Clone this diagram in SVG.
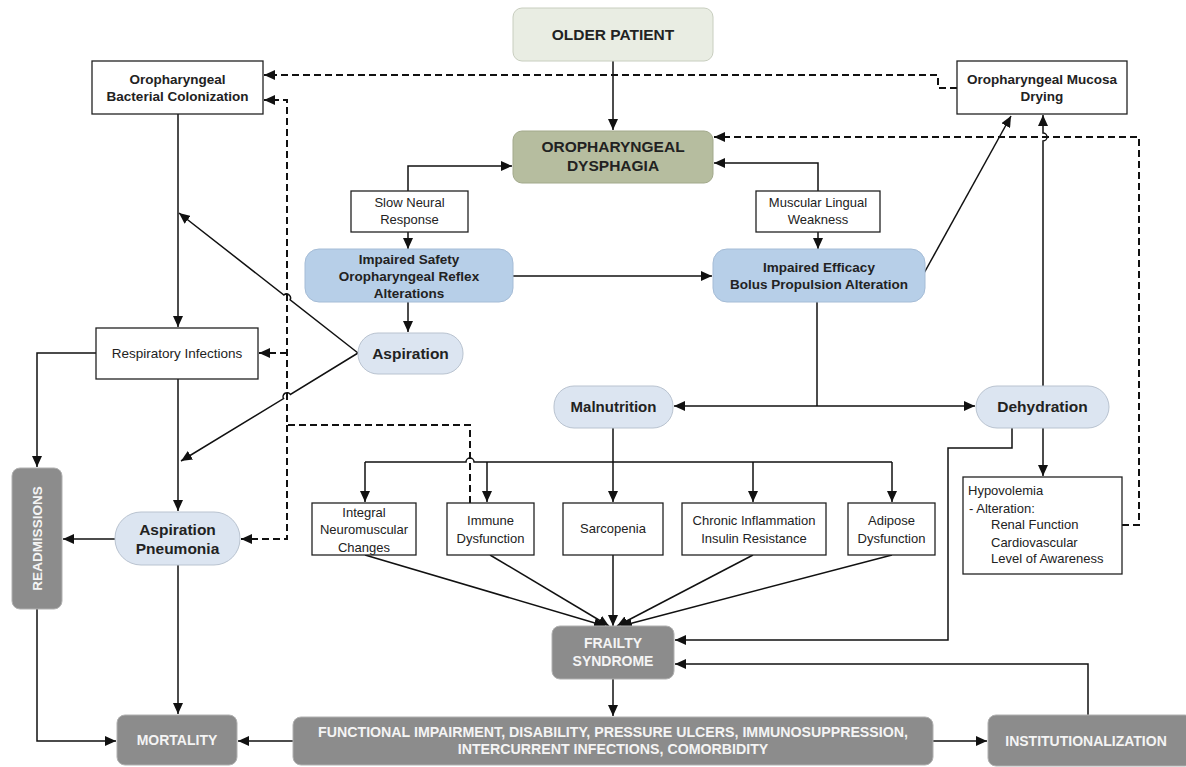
<svg xmlns="http://www.w3.org/2000/svg" width="1186" height="767" viewBox="0 0 1186 767">
<style>
text{font-family:"Liberation Sans",Arial,sans-serif;text-anchor:middle;fill:#222}
.b{font-weight:bold}
.w{fill:#f4f4f4;font-weight:bold}
.box{fill:#fff;stroke:#222;stroke-width:1.3}
.pill{fill:#dce5f1;stroke:#b9c3d0;stroke-width:1}
.blue{fill:#b7cfe8;stroke:#a5bcd6;stroke-width:1}
.grey{fill:#8c8c8c;stroke:#b0b0b0;stroke-width:1}
.c path{fill:none;stroke:#111;stroke-width:1.5}
.c .d{stroke-dasharray:7,4;stroke-width:2}
.a{marker-end:url(#ar)}
</style>
<defs>
<marker id="ar" markerUnits="userSpaceOnUse" markerWidth="12" markerHeight="10" refX="11" refY="5" orient="auto">
<path d="M0,0 L11,5 L0,10 z" fill="#111"/>
</marker>
</defs>
<rect width="1186" height="767" fill="#fff"/>

<g class="c" id="connectors">
<path class="a" d="M613,61 V130"/>
<path class="a" d="M408,191 V166 H512"/>
<path class="a" d="M408,232 V249"/>
<path class="a" d="M818,191 V163 H714"/>
<path class="a" d="M818,232 V249"/>
<path class="a" d="M513,276 H712"/>
<path class="a" d="M923,275 L1011,116"/>
<path class="a" d="M1043,386 V141 A4,4 0 0 0 1043,133 V115"/>
<path class="a" d="M408,302 V332"/>
<path class="a" d="M358,353 L290.1,299.8 A4,4 0 0 0 283.9,295 L179,213"/>
<path class="a" d="M358,353 L290.4,394.4 A4,4 0 0 0 283.6,398.6 L181,461"/>
<path class="a" d="M178,114 V327"/>
<path class="a" d="M178,379 V511"/>
<path class="a" d="M96,353 H37 V467"/>
<path class="a" d="M115,539 H63"/>
<path class="a" d="M178,565 V714"/>
<path class="a" d="M37,609 V741 H116"/>
<path class="a" d="M293,741 H238"/>
<path class="a" d="M933,741 H987"/>
<path class="a" d="M1088,715 V664 H675"/>
<path class="a" d="M1012,428 V448 H948 V640 H675"/>
<path class="a" d="M613,679 V716"/>
<path d="M817,302 V406"/>
<path class="a" d="M817,406 H674"/>
<path class="a" d="M817,406 H975"/>
<path class="a" d="M1043,428 V476"/>
<path class="a" d="M613,428 V502"/>
<path d="M365,462 H466 A4,4 0 0 1 474,462 H892"/>
<path class="a" d="M365,462 V502"/>
<path class="a" d="M487,462 V502"/>
<path class="a" d="M753,462 V502"/>
<path class="a" d="M892,462 V502"/>
<path class="a" d="M365,555 L605,626"/>
<path class="a" d="M490,555 L609,626"/>
<path class="a" d="M613,555 V626"/>
<path class="a" d="M753,555 L617,626"/>
<path class="a" d="M892,555 L621,626"/>
<path class="d a" d="M957,88 H938 V75 H264"/>
<path class="d a" d="M470,503 V425 H287 V100 H264"/>
<path class="d a" d="M287,353 H259"/>
<path class="d a" d="M287,425 V539 H241"/>
<path class="d a" d="M1122,525 H1139 V137 H714"/>
</g>

<g id="older-patient">
<rect x="513" y="8" width="200" height="53" rx="9" fill="#e9ede3" stroke="#c8cebf"/>
<text x="613" y="40" class="b" font-size="15.5" fill="#333">OLDER PATIENT</text>
</g>
<g id="dysphagia">
<rect x="513" y="131" width="200" height="52" rx="9" fill="#b6bd9f" stroke="#a2a98b"/>
<text x="613" y="152" class="b" font-size="15.5">OROPHARYNGEAL</text>
<text x="613" y="171" class="b" font-size="15.5">DYSPHAGIA</text>
</g>
<g id="bacterial">
<rect class="box" x="92" y="61" width="171" height="53"/>
<text x="177.5" y="84" class="b" font-size="13.5">Oropharyngeal</text>
<text x="177.5" y="101" class="b" font-size="13.5">Bacterial Colonization</text>
</g>
<g id="mucosa">
<rect class="box" x="957" y="61" width="170" height="53"/>
<text x="1042" y="84" class="b" font-size="13.5">Oropharyngeal Mucosa</text>
<text x="1042" y="101" class="b" font-size="13.5">Drying</text>
</g>
<g id="slow-neural">
<rect class="box" x="351" y="191" width="117" height="41"/>
<text x="409.5" y="207" font-size="13">Slow Neural</text>
<text x="409.5" y="224" font-size="13">Response</text>
</g>
<g id="muscular">
<rect class="box" x="756" y="191" width="124" height="41"/>
<text x="818" y="207" font-size="13">Muscular Lingual</text>
<text x="818" y="224" font-size="13">Weakness</text>
</g>
<g id="impaired-safety">
<rect class="blue" x="305" y="249" width="208" height="53" rx="14"/>
<text x="409" y="264" class="b" font-size="13.5">Impaired Safety</text>
<text x="409" y="281" class="b" font-size="13.5">Oropharyngeal Reflex</text>
<text x="409" y="298" class="b" font-size="13.5">Alterations</text>
</g>
<g id="impaired-efficacy">
<rect class="blue" x="713" y="249" width="212" height="53" rx="14"/>
<text x="819" y="272" class="b" font-size="13.5">Impaired Efficacy</text>
<text x="819" y="289" class="b" font-size="13.5">Bolus Propulsion Alteration</text>
</g>
<g id="aspiration">
<rect class="pill" x="358" y="333" width="105" height="41" rx="20"/>
<text x="410.5" y="359" class="b" font-size="15.5">Aspiration</text>
</g>
<g id="respiratory">
<rect class="box" x="96" y="328" width="162" height="51"/>
<text x="177" y="358" font-size="13.5">Respiratory Infections</text>
</g>
<g id="malnutrition">
<rect class="pill" x="554" y="386" width="119" height="42" rx="20"/>
<text x="613.5" y="412" class="b" font-size="15">Malnutrition</text>
</g>
<g id="dehydration">
<rect class="pill" x="976" y="386" width="133" height="42" rx="21"/>
<text x="1042.5" y="412" class="b" font-size="15.5">Dehydration</text>
</g>
<g id="hypovolemia">
<rect class="box" x="963" y="477" width="159" height="97"/>
<text x="968" y="495" font-size="13" style="text-anchor:start">Hypovolemia</text>
<text x="969" y="513" font-size="13" style="text-anchor:start"> - Alteration:</text>
<text x="991" y="529" font-size="13" style="text-anchor:start">Renal Function</text>
<text x="991" y="547" font-size="13" style="text-anchor:start">Cardiovascular</text>
<text x="991" y="563" font-size="13" style="text-anchor:start">Level of Awareness</text>
</g>
<g id="readmissions">
<rect class="grey" x="12" y="468" width="50" height="141" rx="8"/>
<text transform="translate(42,538.5) rotate(-90)" class="w" font-size="13.5">READMISSIONS</text>
</g>
<g id="aspiration-pneumonia">
<rect class="pill" x="115" y="512" width="125" height="53" rx="26"/>
<text x="177.5" y="535" class="b" font-size="15.5">Aspiration</text>
<text x="177.5" y="554" class="b" font-size="15.5">Pneumonia</text>
</g>
<g id="integral">
<rect class="box" x="312" y="503" width="104" height="52"/>
<text x="364" y="517" font-size="13">Integral</text>
<text x="364" y="534" font-size="13">Neuromuscular</text>
<text x="364" y="552" font-size="13">Changes</text>
</g>
<g id="immune">
<rect class="box" x="447" y="503" width="87" height="52"/>
<text x="490.5" y="525" font-size="13">Immune</text>
<text x="490.5" y="543" font-size="13">Dysfunction</text>
</g>
<g id="sarcopenia">
<rect class="box" x="563" y="503" width="100" height="52"/>
<text x="613" y="533" font-size="13">Sarcopenia</text>
</g>
<g id="chronic">
<rect class="box" x="682" y="503" width="144" height="52"/>
<text x="754" y="525" font-size="13">Chronic Inflammation</text>
<text x="754" y="543" font-size="13">Insulin Resistance</text>
</g>
<g id="adipose">
<rect class="box" x="848" y="503" width="87" height="52"/>
<text x="891.5" y="525" font-size="13">Adipose</text>
<text x="891.5" y="543" font-size="13">Dysfunction</text>
</g>
<g id="frailty">
<rect class="grey" x="552" y="626" width="122" height="53" rx="8"/>
<text x="613" y="648" class="w" font-size="14">FRAILTY</text>
<text x="613" y="666" class="w" font-size="14">SYNDROME</text>
</g>
<g id="functional">
<rect class="grey" x="293" y="717" width="640" height="48" rx="8"/>
<text x="613" y="737" class="w" font-size="14.2">FUNCTIONAL IMPAIRMENT, DISABILITY, PRESSURE ULCERS, IMMUNOSUPPRESSION,</text>
<text x="613" y="754" class="w" font-size="14.2">INTERCURRENT INFECTIONS, COMORBIDITY</text>
</g>
<g id="mortality">
<rect class="grey" x="117" y="715" width="120" height="50" rx="8"/>
<text x="177" y="745" class="w" font-size="14">MORTALITY</text>
</g>
<g id="institutionalization">
<rect class="grey" x="988" y="715" width="205" height="51" rx="8"/>
<text x="1086" y="746" class="w" font-size="14">INSTITUTIONALIZATION</text>
</g>
</svg>
